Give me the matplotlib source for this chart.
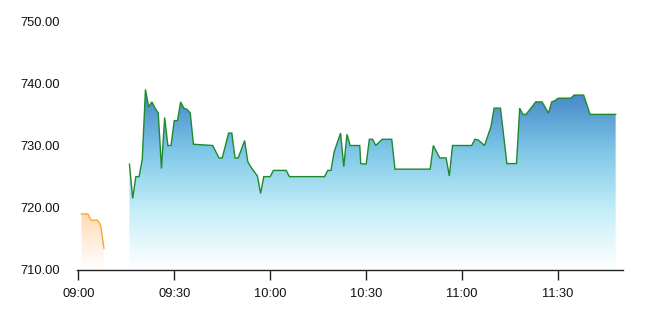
import matplotlib
matplotlib.use("Agg")
import matplotlib.pyplot as plt
import numpy as np
from matplotlib.colors import LinearSegmentedColormap
from matplotlib.patches import Polygon

plt.rcParams['font.family'] = ['Liberation Sans', 'DejaVu Sans']

# minutes after 09:00
pre_minutes = [1, 2, 3, 4, 5, 6, 7, 8]
pre_values = [719, 719, 719, 718, 718, 718, 717.2, 713.5]

main_minutes = [16, 17, 18, 19, 20, 21, 22, 23, 24, 25, 26, 27, 28, 29, 30, 31, 32, 33, 34, 35, 36,
                42, 44, 45, 47, 48, 49, 50, 52, 53, 54, 56, 57, 58, 60, 61, 65, 66, 77, 78, 79, 80,
                82, 83, 84, 85, 88, 88.3, 90, 91, 92, 93, 95, 98, 99, 110, 111, 113, 115, 116, 117,
                123, 124, 125, 127, 129, 130, 132, 134, 137, 138, 139, 140, 143, 145, 147, 148, 149,
                150, 154, 155, 158, 160, 168]
main_values = [727, 721.5, 725, 725, 727.8, 739, 736.2, 737, 736, 735.2, 726.3, 734.5, 730, 730, 734, 734,
               737, 736, 735.8, 735.2, 730.2,
               730, 728, 728, 732, 732, 728, 728, 730.8, 727.4, 726.5, 725.1, 722.3, 725, 725, 726,
               726, 725, 725, 726, 726, 729,
               732, 726.6, 731.8, 730, 730, 727.1, 727, 731, 731, 730, 731, 731, 726.2, 726.2, 730,
               728, 728, 725.1, 730,
               730, 731, 730.9, 730, 733, 736, 736, 727.1, 727.1, 736, 735, 735, 737, 737, 735.2,
               737, 737.2, 737.6, 737.6, 738.1, 738.1, 735, 735]

tick_minutes = [0, 30, 60, 90, 120, 150]
tick_labels = ["09:00", "09:30", "10:00", "10:30", "11:00", "11:30"]
y_ticks = [710, 720, 730, 740, 750]

BASE = 710

fig = plt.figure(figsize=(6.48, 3.26), dpi=100)
ax = fig.add_axes([76.7 / 648, (326 - 270) / 326, (623 - 76.7) / 648, (270 - 21) / 326])
ax.set_xlim(-0.5, 170.3)
ax.set_ylim(BASE, 750)


def gradient_area(xs, ys, colors, line_color, lw):
    xs = np.asarray(xs, float)
    ys = np.asarray(ys, float)
    cmap = LinearSegmentedColormap.from_list("g", colors)
    grad = np.linspace(0, 1, 256).reshape(-1, 1)
    top = ys.max()
    im = ax.imshow(grad, cmap=cmap, aspect='auto', origin='upper',
                   extent=[xs[0], xs[-1], BASE, top], zorder=1, interpolation='bilinear')
    verts = list(zip(xs, ys)) + [(xs[-1], BASE), (xs[0], BASE)]
    poly = Polygon(verts, closed=True, facecolor='none', edgecolor='none', transform=ax.transData)
    ax.add_patch(poly)
    im.set_clip_path(poly)
    ax.plot(xs, ys, color=line_color, lw=lw, zorder=3, solid_joinstyle='miter')


gradient_area(pre_minutes, pre_values, ["#ffd9ab", "#ffeedd", "#ffffff"], "#f2a93b", 1.0)
gradient_area(main_minutes, main_values, ["#4283c6", "#7cc6e6", "#c4eef8", "#ffffff"], "#1f8a2c", 1.0)

ax.set_xlim(-0.5, 170.3)
ax.set_ylim(BASE, 750)

for s in ['left', 'right', 'top']:
    ax.spines[s].set_visible(False)
ax.spines['bottom'].set_color('#222222')
ax.spines['bottom'].set_linewidth(1.0)
ax.spines['bottom'].set_zorder(4)

ax.set_xticks(tick_minutes)
ax.set_xticklabels(tick_labels)
ax.set_yticks(y_ticks)
ax.set_yticklabels([f"{v:.2f}" for v in y_ticks])
ax.tick_params(axis='x', length=7, width=1, color='#222222', pad=6, labelsize=9.3, labelcolor='#111111')
ax.tick_params(axis='y', length=0, pad=12, labelsize=9.3, labelcolor='#111111')

fig.savefig("out.png", dpi=100)
